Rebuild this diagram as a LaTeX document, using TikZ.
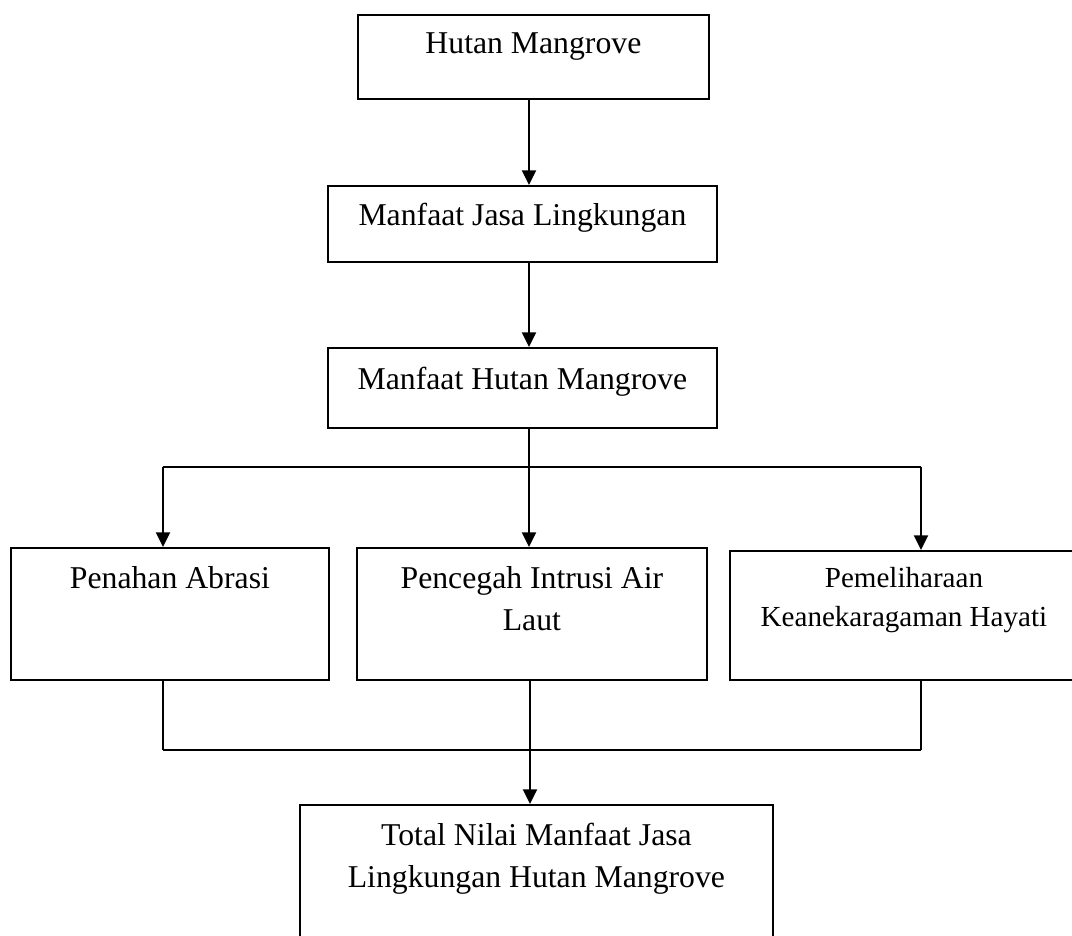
\documentclass[tikz,border=0pt]{standalone}
\usepackage{fontspec}
\setmainfont{Liberation Serif}
\usetikzlibrary{arrows.meta}
\newcommand{\bxtext}[5]{\parbox[c][#2][t]{#1}{\centering\fontsize{#5}{1.33\dimexpr#5\relax}\selectfont\rule{0pt}{#3}#4}}
\tikzset{
  box/.style={draw=black, line width=1.4pt, inner sep=0pt, anchor=north west},
  conn/.style={draw=black, line width=1.6pt},
  arr/.style={conn, -{Triangle[length=11pt,width=10.5pt]}}
}
\begin{document}
\begin{tikzpicture}[x=0.75pt,y=-0.75pt]
\clip (0,0) rectangle (1072,936);
\fill[white] (0,0) rectangle (1072,936);
\node[box] (b1) at (357,14)  {\bxtext{263.25pt}{63pt}{29pt}{Hutan Mangrove}{23.8pt}};
\node[box] (b2) at (327,185) {\bxtext{291.75pt}{57pt}{30pt}{Manfaat Jasa Lingkungan}{23.8pt}};
\node[box] (b3) at (327,347) {\bxtext{291.75pt}{60pt}{31pt}{Manfaat Hutan Mangrove}{23.8pt}};
\node[box] (b4) at (10,547)  {\bxtext{238.5pt}{99pt}{30.5pt}{Penahan Abrasi}{23.8pt}};
\node[box] (b5) at (356,547) {\bxtext{262.5pt}{99pt}{30.5pt}{Pencegah Intrusi Air\\Laut}{23.8pt}};
\node[box] (b6) at (729,550) {\bxtext{261pt}{96.75pt}{27.75pt}{Pemeliharaan\\Keanekaragaman Hayati}{21.8pt}};
\node[box] (b7) at (299,804) {\bxtext{354.75pt}{104pt}{30.5pt}{Total Nilai Manfaat Jasa\\Lingkungan Hutan Mangrove}{23.8pt}};
% coordinates for connector columns
\coordinate (cx) at (529,0);
\coordinate (lx) at (163,0);
\coordinate (rx) at (921,0);
\coordinate (busT) at (529,467);
\coordinate (busB) at (530,750);
% top chain
\draw[arr] (b1.south -| cx) -- (b2.north -| cx);
\draw[arr] (b2.south -| cx) -- (b3.north -| cx);
\draw[conn] (b3.south -| cx) -- (busT);
\draw[conn] (busT -| lx) -- (busT -| rx);
\draw[arr] (busT -| lx) -- (b4.north -| lx);
\draw[arr] (busT) -- (b5.north -| cx);
\draw[arr] (busT -| rx) -- (b6.north -| rx);
% bottom bus
\draw[conn] (b4.south -| lx) -- (busB -| lx);
\draw[conn] (b6.south -| rx) -- (busB -| rx);
\draw[conn] (busB -| lx) -- (busB -| rx);
\draw[conn] (b5.south -| busB) -- (busB);
\draw[arr] (busB) -- (b7.north -| busB);
\end{tikzpicture}
\end{document}
